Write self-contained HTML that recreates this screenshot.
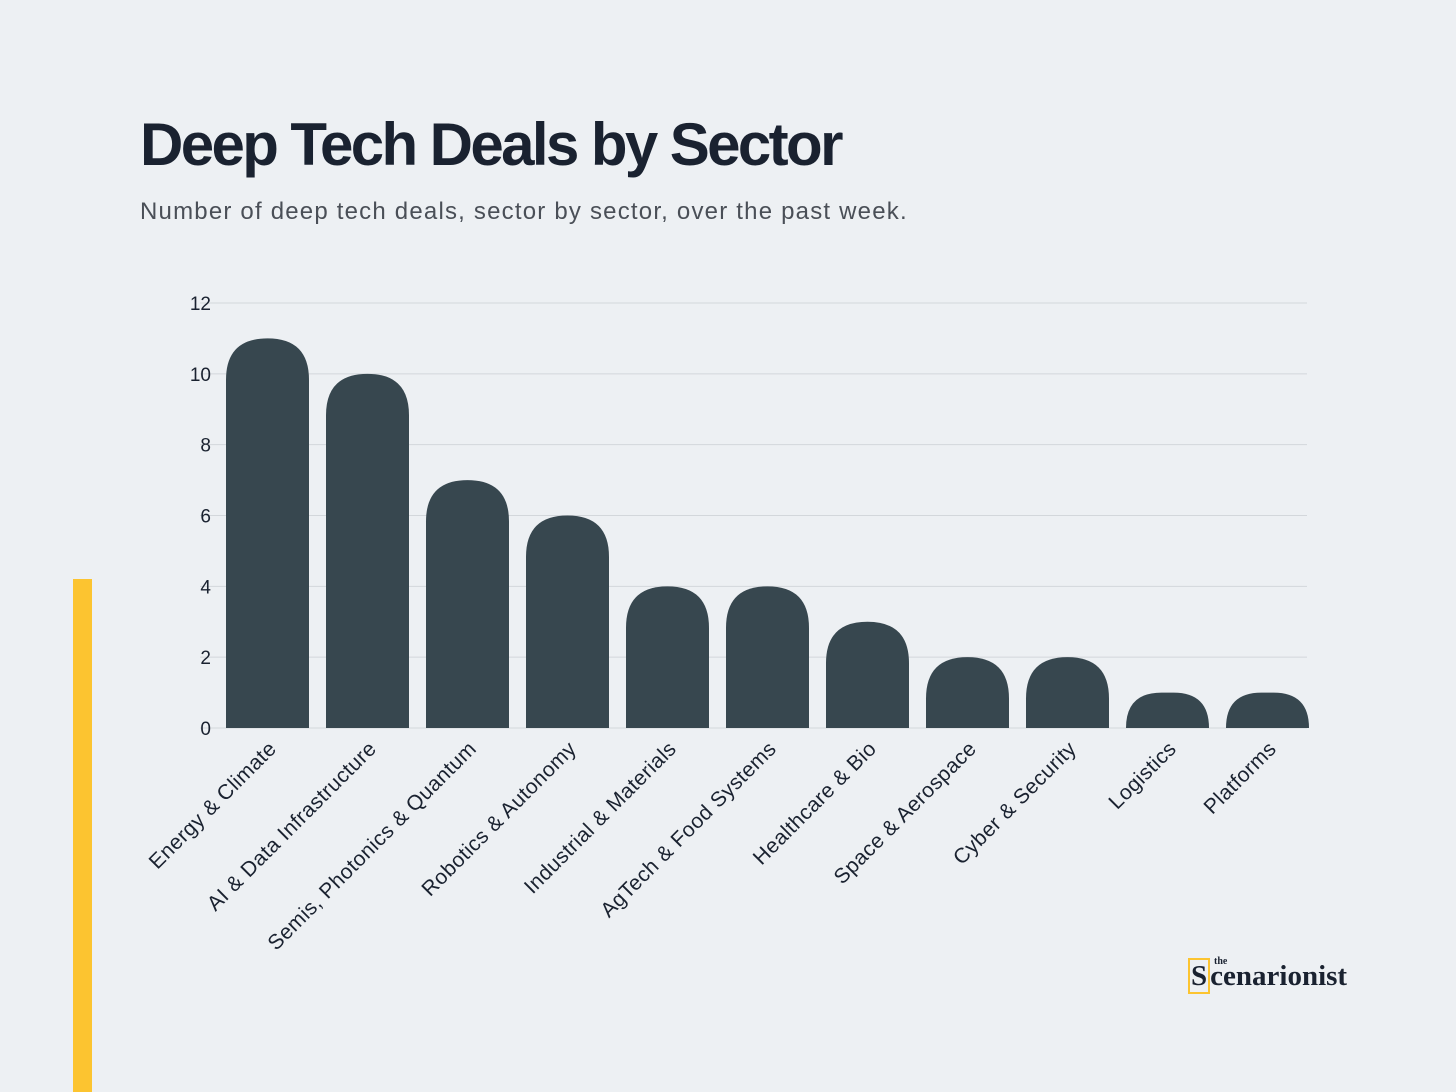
<!DOCTYPE html>
<html><head><meta charset="utf-8"><style>
body{margin:0;width:1456px;height:1092px;background:#edf0f3;overflow:hidden;font-family:"Liberation Sans",sans-serif;position:relative}
#title{position:absolute;left:140px;top:110px;font-size:60px;font-weight:bold;color:#1a2230;letter-spacing:-2.6px;margin:0}
#sub{position:absolute;left:140px;top:198px;font-size:24px;letter-spacing:1.2px;color:#4a4f57}
#accent{position:absolute;left:73px;top:579px;width:19px;height:513px;background:#fcc430}
#logo{position:absolute;left:1188px;top:960px;font-family:"Liberation Serif",serif;font-weight:bold;font-size:29px;color:#1a2230;letter-spacing:0px}
</style></head><body>
<h1 id="title">Deep Tech Deals by Sector</h1>
<div id="sub">Number of deep tech deals, sector by sector, over the past week.</div>
<div id="accent"></div>
<div id="logo"><span style="border:2px solid #fcc430;padding:0 1px">S</span>cenarionist<span style="position:absolute;left:26px;top:-4px;font-size:10px">the</span></div>
<svg id="chart" width="1456" height="1092" style="position:absolute;left:0;top:0"></svg>
<script>
const categories=["Energy & Climate","AI & Data Infrastructure","Semis, Photonics & Quantum","Robotics & Autonomy","Industrial & Materials","AgTech & Food Systems","Healthcare & Bio","Space & Aerospace","Cyber & Security","Logistics","Platforms"];
const values=[11,10,7,6,4,4,3,2,2,1,1];
const ticks=[0,2,4,6,8,10,12];
const NS="http://www.w3.org/2000/svg";
const svg=document.getElementById('chart');
const y0=728,yTop=303,yMax=12;
const y=v=>y0-(y0-yTop)*v/yMax;
const x=i=>226+i*100;
const bw=83;
function mk(t,a){const e=document.createElementNS(NS,t);for(const k in a)e.setAttribute(k,a[k]);svg.appendChild(e);return e;}
ticks.forEach(t=>{
  const l=mk('line',{x1:200,x2:1307,y1:y(t),y2:y(t),stroke:'#d3d7db','stroke-width':1});
  
  
  const tx=mk('text',{x:211,y:y(t)+7,'text-anchor':'end','font-size':19,fill:'#1a2230','font-family':'Liberation Sans, sans-serif'});
  tx.textContent=t;
  
  
});
values.forEach((v,i)=>{
  const x0=x(i),top=y(v),r=Math.min(bw/2,y0-top);
  const d=`M${x0},${y0} L${x0},${top+r} Q${x0},${top} ${x0+r},${top} L${x0+bw-r},${top} Q${x0+bw},${top} ${x0+bw},${top+r} L${x0+bw},${y0} Z`;
  const p=mk('path',{d:d,fill:'#37474f'});
  
  
  const cx=x0+bw/2+10;
  const t=mk('text',{x:cx,y:750,'text-anchor':'end','font-size':21,'letter-spacing':0.4,fill:'#1a2230','font-family':'Liberation Sans, sans-serif',transform:`rotate(-45 ${cx} 750)`});
  t.textContent=categories[i];
  
  
});
</script>
</body></html>
